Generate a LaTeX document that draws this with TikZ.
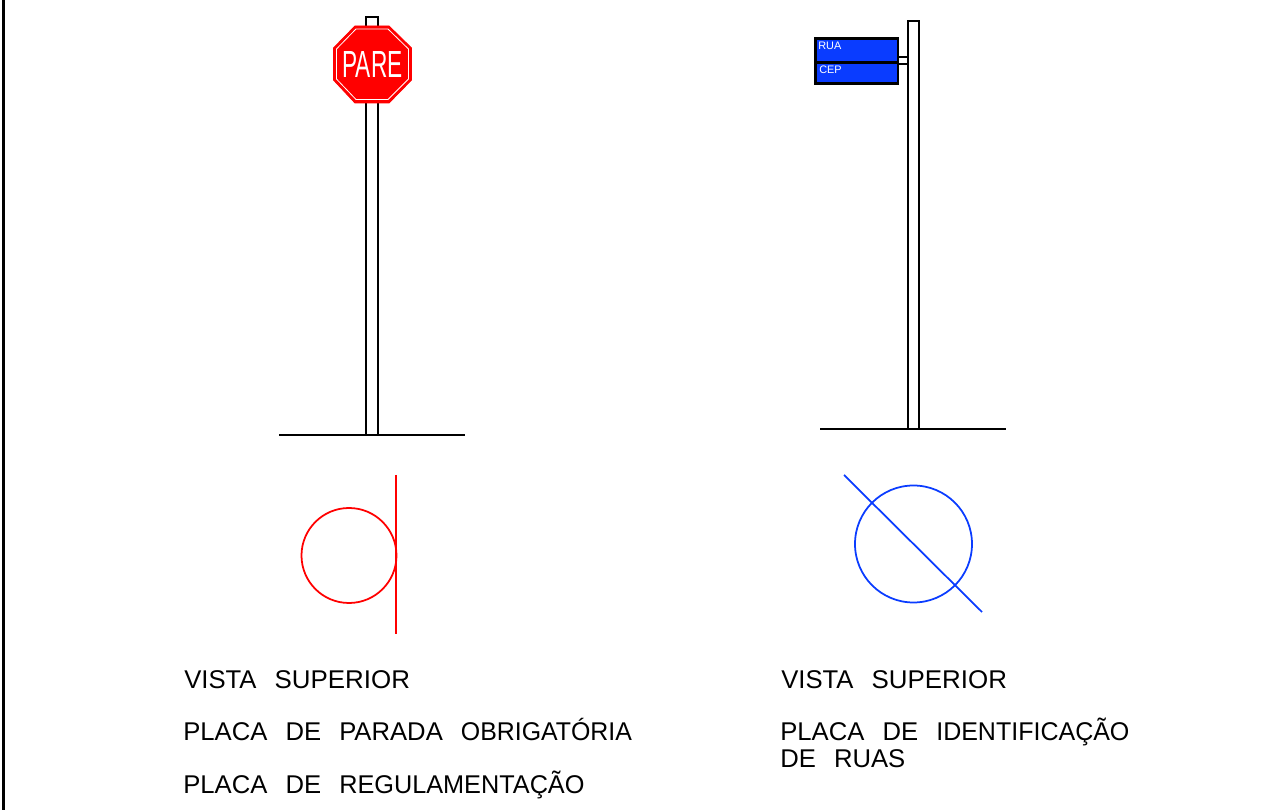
\documentclass[tikz,border=0pt]{standalone}
\usepackage{fontspec}
\usepackage{graphicx}
\setmainfont{Liberation Sans}
\newcommand{\wgap}{\hspace{10.3pt}}
\newcommand{\wfit}[2]{\scalebox{#1}[1]{#2}}
\tikzset{
	post/.style={line width=0.85pt, fill=white},
	ground/.style={line width=0.85pt},
	plan/.style={line width=1pt},
	legend/.style={anchor=base west, inner sep=0pt, font=\fontsize{14.6}{14.6}\selectfont},
	platetext/.style={anchor=base west, inner sep=0pt, text=white, font=\fontsize{6.2}{6.2}\selectfont}
}
\definecolor{signred}{RGB}{255,0,0}
\definecolor{signblue}{RGB}{10,60,255}
\begin{document}
\begin{tikzpicture}[x=0.02cm, y=-0.02cm]
			%%%%% START %%%%%
			\useasboundingbox (0, 0) rectangle (1276, 810);
			
			\draw[line width=1.2pt] (3.5, 0) -- (3.5, 810);
			
			% stop sign, front
			\draw[post] (366, 17) rectangle (378, 435);
			\draw[ground] (279, 435) -- (465, 435);
			\draw[fill=signred, draw=signred, line width=0.5pt] (355, 26) -- (389, 26) -- (411.5, 48) -- (411.5, 80) -- (389, 103) -- (355, 103) -- (333.5, 80) -- (333.5, 48) -- cycle;
			\draw[white, line width=0.45pt] (356, 29) -- (388, 29) -- (408.5, 49) -- (408.5, 79) -- (388, 99.5) -- (356, 99.5) -- (336.5, 79) -- (336.5, 49) -- cycle;
			\node[text=white, inner sep=0pt, font=\fontsize{21.5}{21.5}\selectfont] (pare) at (372.5, 64.5) {\scalebox{0.6}[1]{PARE}};
			
			% stop sign, top view
			\draw[signred, plan] (349, 555.5) circle (47.5);
			\draw[signred, plan] (396, 475) -- (396, 634);
			
			% street sign, front
			\draw[post] (908, 21) rectangle (919, 429);
			\draw[ground] (820, 429) -- (1006, 429);
			\draw[line width=0.85pt] (898, 57) -- (908, 57);
			\draw[line width=0.85pt] (898, 64) -- (908, 64);
			\draw[fill=signblue, line width=1.5pt] (815.5, 38.5) rectangle (898, 62.5);
			\draw[fill=signblue, line width=1.5pt] (815.5, 62.5) rectangle (898, 83.5);
			\node[platetext] (rua) at (818, 50) {RUA};
			\node[platetext] (cep) at (819, 74) {CEP};
			
			% street sign, top view
			\draw[signblue, plan] (913.5, 544) circle (58.5);
			\draw[signblue, plan] (844, 475) -- (982, 612);
			
			% legends
			\node[legend] (viewa) at (184, 689) {VISTA\wgap \wfit{1.01}{SUPERIOR}};
			\node[legend] (namea) at (183, 741) {PLACA\wgap DE\wgap PARADA\wgap \wfit{0.97}{OBRIGATÓRIA}};
			\node[legend] (kinda) at (183, 794) {PLACA\wgap DE\wgap \wfit{0.985}{REGULAMENTAÇÃO}};
			\node[legend] (viewb) at (781, 689) {VISTA\wgap \wfit{1.01}{SUPERIOR}};
			\node[legend] (nameb) at (780, 741) {PLACA\wgap DE\wgap \wfit{0.975}{IDENTIFICAÇÃO}};
			\node[legend] (kindb) at (780, 768) {DE\wgap RUAS};
			
			%%%%% END %%%%%
		\end{tikzpicture}
\end{document}
